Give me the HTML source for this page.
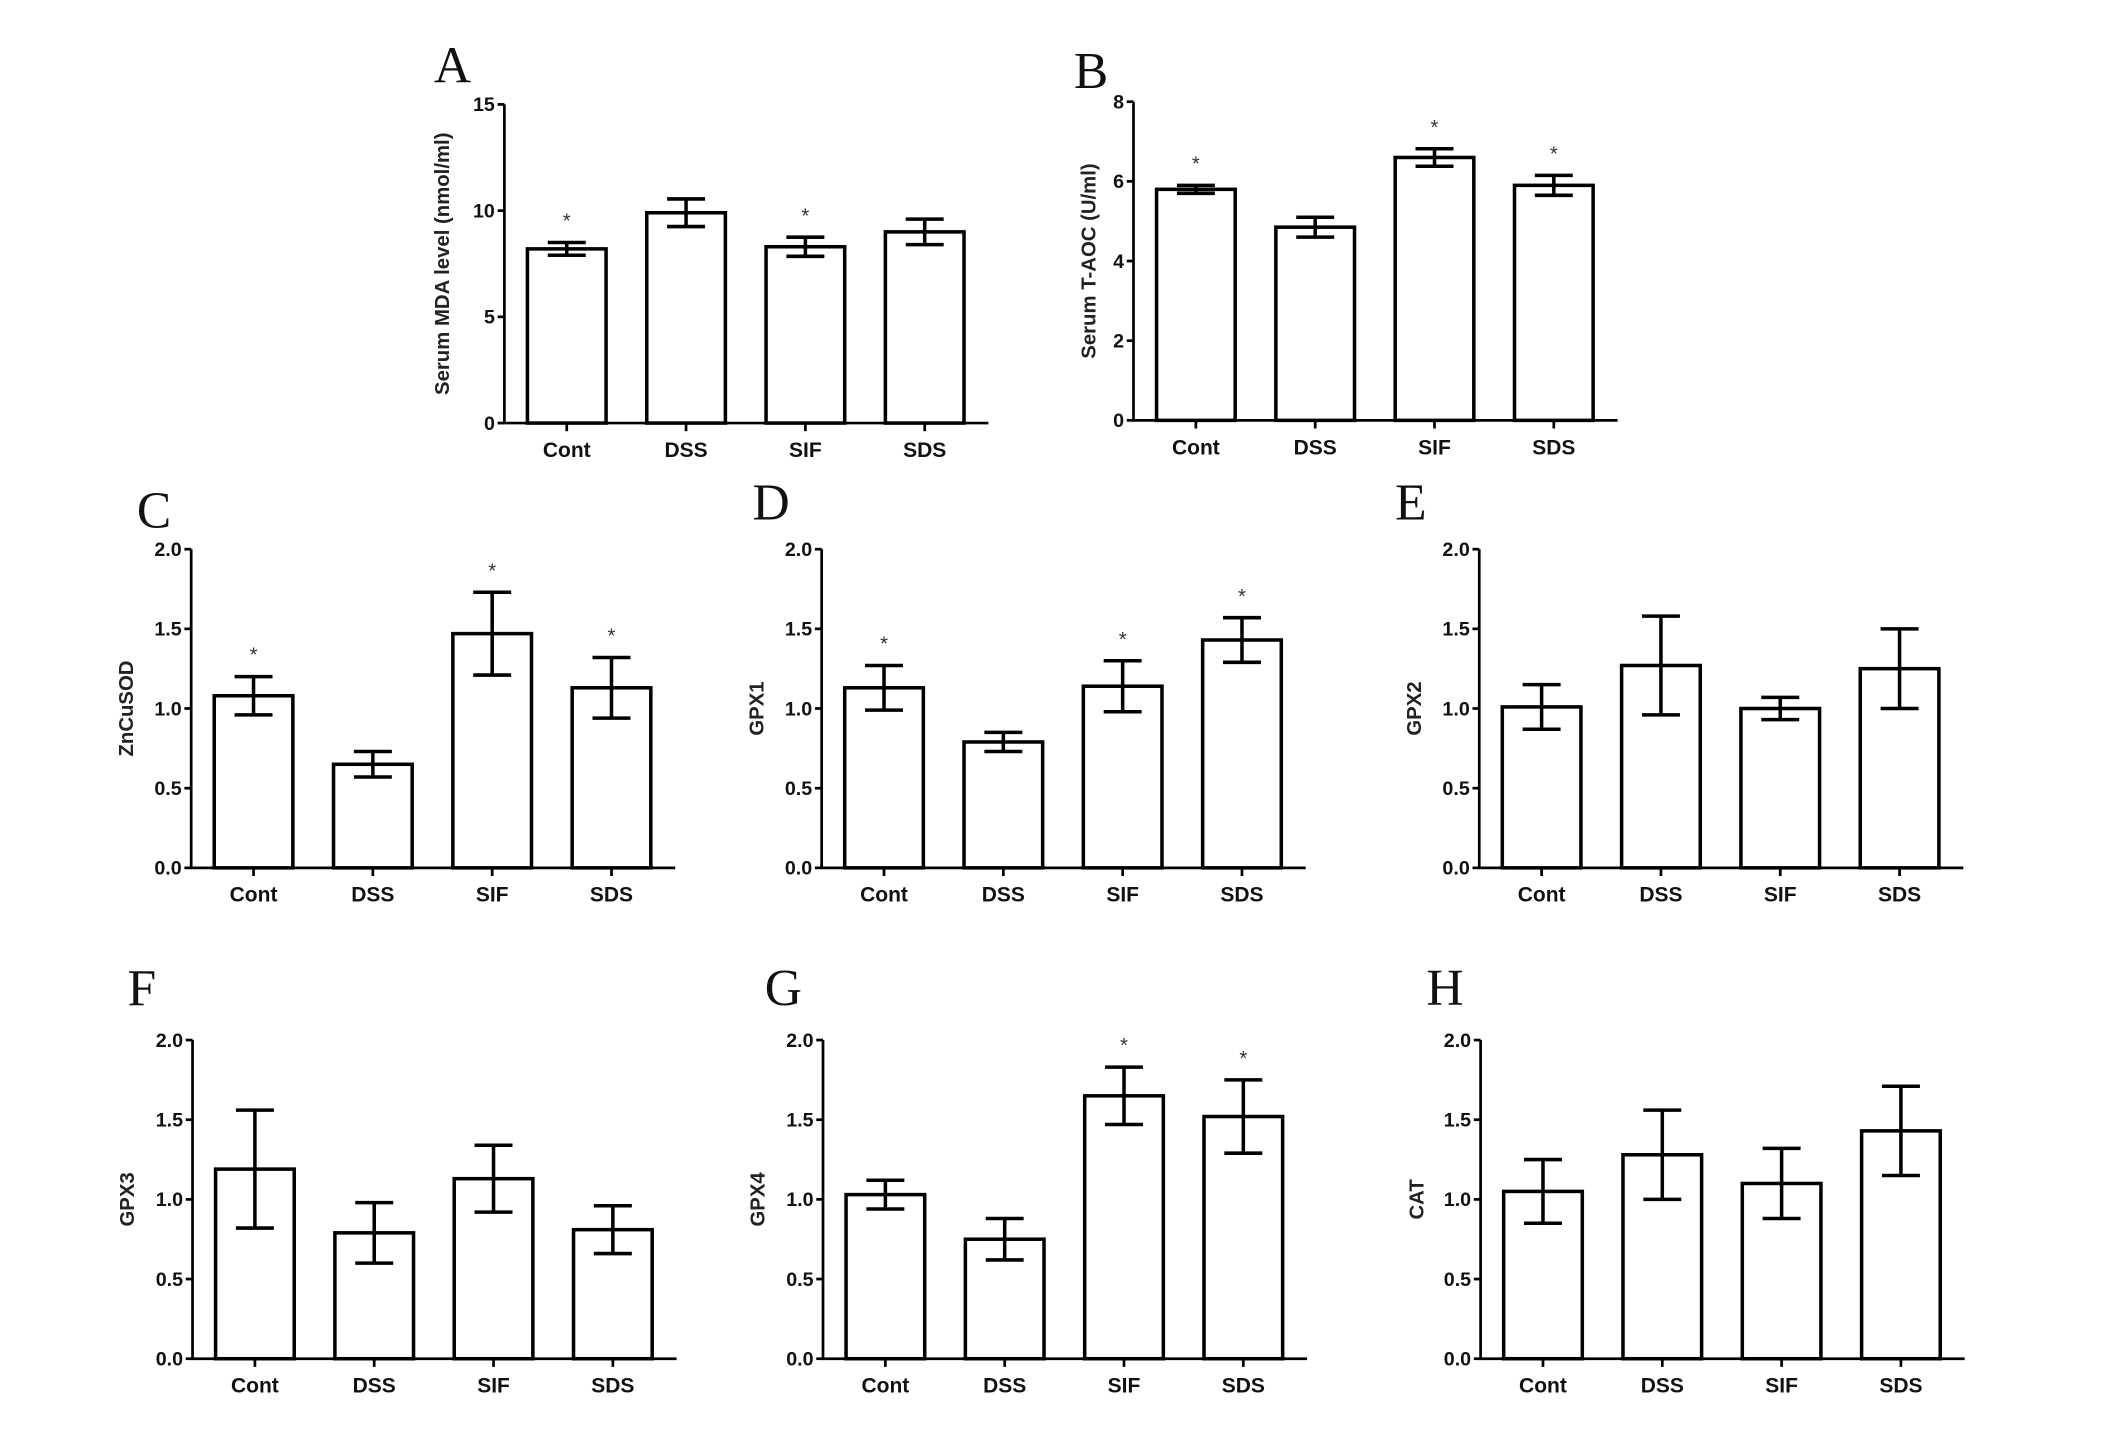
<!DOCTYPE html>
<html><head><meta charset="utf-8"><style>
html,body{margin:0;padding:0;background:#fff;}
svg{display:block;}
text{font-family:"Liberation Sans",Arial,sans-serif;fill:#111;}
.tick{font-weight:bold;font-size:14.5px;}
.cat{font-weight:bold;font-size:15.5px;}
.ylab{font-size:15px;font-weight:bold;fill:#222;}
.letter{font-family:"Liberation Serif",serif;font-size:38px;fill:#111;}
.star{font-size:15px;fill:#333;}
</style></head><body>
<svg id="fig" width="2126" height="1455" viewBox="0 0 1568 1073" preserveAspectRatio="none" xmlns="http://www.w3.org/2000/svg"></svg>
<script>
const categories = ["Cont","DSS","SIF","SDS"];
const mdaValues = [8.2, 9.9, 8.3, 9.0];
const mdaErr = [0.3, 0.65, 0.45, 0.6];
const mdaStars = [1,0,1,0];
const taocValues = [5.8, 4.85, 6.6, 5.9];
const taocErr = [0.1, 0.25, 0.22, 0.25];
const taocStars = [1,0,1,1];
const sodValues = [1.08, 0.65, 1.47, 1.13];
const sodErr = [0.12, 0.08, 0.26, 0.19];
const sodStars = [1,0,1,1];
const gpx1Values = [1.13, 0.79, 1.14, 1.43];
const gpx1Err = [0.14, 0.06, 0.16, 0.14];
const gpx1Stars = [1,0,1,1];
const gpx2Values = [1.01, 1.27, 1.0, 1.25];
const gpx2Err = [0.14, 0.31, 0.07, 0.25];
const gpx2Stars = [0,0,0,0];
const gpx3Values = [1.19, 0.79, 1.13, 0.81];
const gpx3Err = [0.37, 0.19, 0.21, 0.15];
const gpx3Stars = [0,0,0,0];
const gpx4Values = [1.03, 0.75, 1.65, 1.52];
const gpx4Err = [0.09, 0.13, 0.18, 0.23];
const gpx4Stars = [0,0,1,1];
const catValues = [1.05, 1.28, 1.10, 1.43];
const catErr = [0.2, 0.28, 0.22, 0.28];
const catStars = [0,0,0,0];
const ticks15 = ["0","5","10","15"];
const ticks8 = ["0","2","4","6","8"];
const ticks2 = ["0.0","0.5","1.0","1.5","2.0"];

const NS="http://www.w3.org/2000/svg";
const svg=document.getElementById('fig');
function mk(tag,attrs,parent){const e=document.createElementNS(NS,tag);for(const k in attrs)e.setAttribute(k,attrs[k]);(parent||svg).appendChild(e);return e;}

function panel(cfg){
  const g=mk('g',{});
  
  
  const x0=cfg.ax, yTop=cfg.top, yBot=cfg.bot, xEnd=cfg.ax+357;
  const ymax=cfg.max;
  const y=v=>yBot-(v/ymax)*(yBot-yTop);
  const cx=i=>x0+46+i*88;
  const sw=2.6;
  const L=mk('text',{x:cfg.lx,y:cfg.ly,class:'letter'},g);L.textContent=cfg.id;
  
  
  cfg.vals.forEach((v,i)=>{
    const r=mk('rect',{x:cx(i)-29,y:y(v),width:58,height:yBot-y(v),fill:'#fff',stroke:'#000','stroke-width':sw},g);
    
    
    const e=cfg.err[i];
    const eg=mk('path',{d:`M${cx(i)},${y(v+e)}V${y(v-e)}M${cx(i)-14},${y(v+e)}H${cx(i)+14}M${cx(i)-14},${y(v-e)}H${cx(i)+14}`,stroke:'#000','stroke-width':sw,fill:'none'},g);
    
    
    if(cfg.stars[i]){
      const s=mk('text',{x:cx(i),y:y(v+e)-11,'text-anchor':'middle',class:'star'},g);s.textContent='*';
      
      
    }
    const t=mk('text',{x:cx(i),y:yBot+25,'text-anchor':'middle',class:'cat'},g);t.textContent=categories[i];
    
    
    mk('line',{x1:cx(i),x2:cx(i),y1:yBot,y2:yBot+6,stroke:'#000','stroke-width':2},g);
  });
  const ax=mk('path',{d:`M${x0},${yTop}V${yBot}H${xEnd}`,stroke:'#000','stroke-width':2,fill:'none'},g);
  
  
  cfg.ticks.forEach((tl,i)=>{
    const v=i*(ymax/(cfg.ticks.length-1));
    mk('line',{x1:x0-5,x2:x0,y1:y(v),y2:y(v),stroke:'#000','stroke-width':2},g);
    const t=mk('text',{x:x0-7,y:y(v)+5,'text-anchor':'end',class:'tick'},g);t.textContent=tl;
    
    
  });
  const yl=mk('text',{x:0,y:0,'text-anchor':'middle',class:'ylab',transform:`translate(${cfg.ylx},${(yTop+yBot)/2}) rotate(-90)`},g);
  yl.textContent=cfg.ylabel;
  
  
}

panel({id:'A',ax:372,top:77,bot:312,max:15,vals:mdaValues,err:mdaErr,stars:mdaStars,ticks:ticks15,ylabel:'Serum MDA level (nmol/ml)',ylx:331,lx:320,ly:61});
panel({id:'B',ax:836,top:75,bot:310,max:8,vals:taocValues,err:taocErr,stars:taocStars,ticks:ticks8,ylabel:'Serum T-AOC (U/ml)',ylx:808,lx:792,ly:65});
panel({id:'C',ax:141,top:405,bot:640,max:2,vals:sodValues,err:sodErr,stars:sodStars,ticks:ticks2,ylabel:'ZnCuSOD',ylx:98,lx:101,ly:389});
panel({id:'D',ax:606,top:405,bot:640,max:2,vals:gpx1Values,err:gpx1Err,stars:gpx1Stars,ticks:ticks2,ylabel:'GPX1',ylx:563,lx:555,ly:383});
panel({id:'E',ax:1091,top:405,bot:640,max:2,vals:gpx2Values,err:gpx2Err,stars:gpx2Stars,ticks:ticks2,ylabel:'GPX2',ylx:1048,lx:1029,ly:383});
panel({id:'F',ax:142,top:767,bot:1002,max:2,vals:gpx3Values,err:gpx3Err,stars:gpx3Stars,ticks:ticks2,ylabel:'GPX3',ylx:99,lx:94,ly:741});
panel({id:'G',ax:607,top:767,bot:1002,max:2,vals:gpx4Values,err:gpx4Err,stars:gpx4Stars,ticks:ticks2,ylabel:'GPX4',ylx:564,lx:564,ly:741});
panel({id:'H',ax:1092,top:767,bot:1002,max:2,vals:catValues,err:catErr,stars:catStars,ticks:ticks2,ylabel:'CAT',ylx:1050,lx:1052,ly:741});
</script>
</body></html>
